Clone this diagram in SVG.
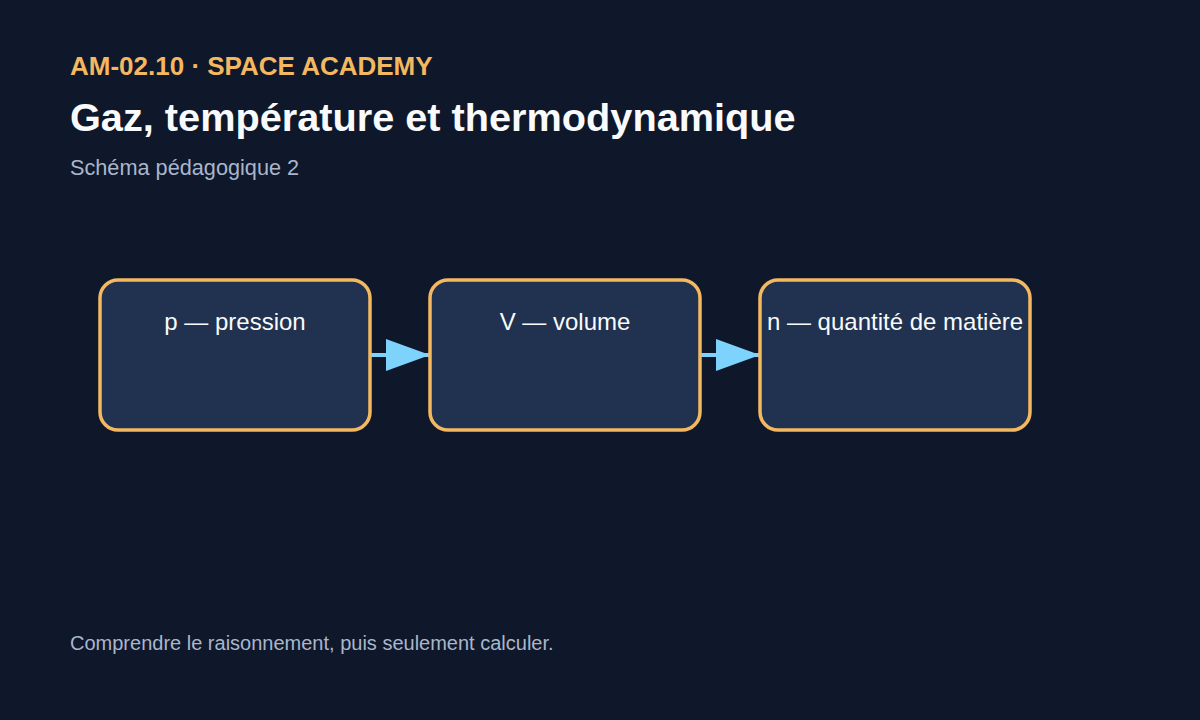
<svg xmlns="http://www.w3.org/2000/svg" width="1200" height="720" viewBox="0 0 1200 720">
<style>
.kicker{font-family:"Liberation Sans",Arial,sans-serif;font-size:26px;font-weight:bold;fill:#f4b860}
.title{font-family:"Liberation Sans",Arial,sans-serif;font-size:39.7px;font-weight:bold;fill:#f8fafc}
.sub{font-family:"Liberation Sans",Arial,sans-serif;font-size:21.7px;fill:#a9b6cb}
.foot{font-family:"Liberation Sans",Arial,sans-serif;font-size:20px;fill:#a9b6cb}
.box{fill:#20324f;stroke:#f4b860;stroke-width:3.5}
.lbl{font-family:"Liberation Sans",Arial,sans-serif;font-size:24px;fill:#f8fafc;text-anchor:middle}
.conn{stroke:#7dd3fc;stroke-width:4;fill:none}
</style>
<defs>
<marker id="arr" markerUnits="userSpaceOnUse" markerWidth="46" markerHeight="34" refX="44" refY="17" orient="auto">
<path d="M0,1 L44,17 L0,33 Z" fill="#7dd3fc"/>
</marker>
</defs>
<rect width="1200" height="720" fill="#0f172a"/>
<text class="kicker" x="70" y="75">AM-02.10 · SPACE ACADEMY</text>
<text class="title" x="70" y="131">Gaz, température et thermodynamique</text>
<text class="sub" x="70" y="175">Schéma pédagogique 2</text>
<g id="connectors">
<line class="conn" x1="370" y1="355" x2="430" y2="355" marker-end="url(#arr)"/>
<line class="conn" x1="700" y1="355" x2="760" y2="355" marker-end="url(#arr)"/>
</g>
<g id="node-p">
<rect class="box" x="100" y="280" width="270" height="150" rx="18"/>
<text class="lbl" x="235" y="330">p — pression</text>
</g>
<g id="node-v">
<rect class="box" x="430" y="280" width="270" height="150" rx="18"/>
<text class="lbl" x="565" y="330">V — volume</text>
</g>
<g id="node-n">
<rect class="box" x="760" y="280" width="270" height="150" rx="18"/>
<text class="lbl" x="895" y="330">n — quantité de matière</text>
</g>
<text class="foot" x="70" y="650">Comprendre le raisonnement, puis seulement calculer.</text>
</svg>
